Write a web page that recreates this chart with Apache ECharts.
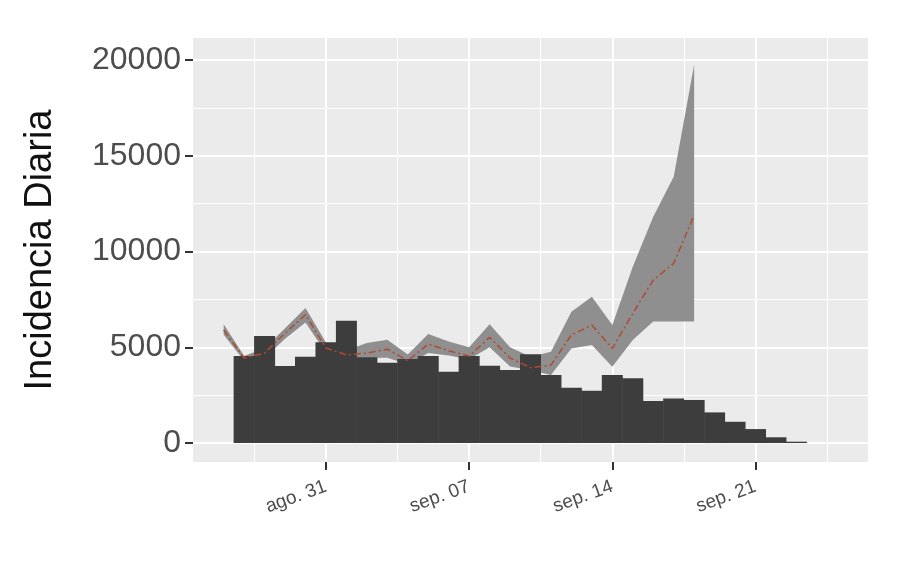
<!DOCTYPE html>
<html>
<head>
<meta charset="utf-8">
<script src="https://cdn.jsdelivr.net/npm/echarts@6/dist/echarts.min.js"></script>
<style>html,body{margin:0;padding:0;background:#fff}#chart{width:910px;height:583px}</style>
</head>
<body>
<div id="chart"></div>
<script>
// days are counted from ago. 31 (0 = ago. 31)
var barDays = [-4, -3, -2, -1, 0, 1, 2, 3, 4, 5, 6, 7, 8, 9, 10, 11, 12, 13, 14, 15, 16, 17, 18, 19, 20, 21, 22, 23];
var barValues = [4540, 5590, 4020, 4500, 5260, 6390, 4480, 4190, 4390, 4540, 3720, 4540, 4040, 3810, 4630,
    3550, 2890, 2730, 3550, 3380, 2190, 2330, 2250, 1600, 1110, 730, 300, 70];

var fitDays = [-5, -4, -3, -2, -1, 0, 1, 2, 3, 4, 5, 6, 7, 8, 9, 10, 11, 12, 13, 14, 15, 16, 17, 18];
var fitMean = [5900, 4440, 4700, 5740, 6700, 4960, 4600, 4700, 4900, 4300, 5170, 4820, 4540, 5520, 4440, 3930,
    4070, 5640, 6160, 4940, 6770, 8510, 9380, 11900];
var fitLower = [5650, 4300, 4450, 5450, 6300, 4700, 4400, 4440, 4450, 4100, 4700, 4570, 4370, 5000, 4000, 3800,
    3550, 4940, 5120, 3990, 5380, 6340, 6340, 6340];
var fitUpper = [6200, 4550, 4950, 6000, 7050, 5250, 4850, 5220, 5400, 4620, 5700, 5300, 5000, 6200, 5000, 4500,
    4770, 6860, 7640, 6160, 9210, 11820, 13910, 19740];

var xTicks = [0, 7, 14, 21];
var xTickLabels = ['ago. 31', 'sep. 07', 'sep. 14', 'sep. 21'];
var xMinor = [-3.5, 3.5, 10.5, 17.5, 24.5];
var yTicks = [0, 5000, 10000, 15000, 20000];
var yMinor = [2500, 7500, 12500, 17500];

var chart = echarts.init(document.getElementById('chart'));

function pairs(xs, ys) {
    return xs.map(function (x, i) { return [x, ys[i]]; });
}

var xRange = { min: -6.5, max: 26.5 };
var yRange = { min: -990, max: 21150 };

// ribbon polygon: upper edge left->right, lower edge right->left
function renderBand(params, api) {
    var pts = [];
    for (var i = 0; i < fitDays.length; i++) pts.push(api.coord([fitDays[i], fitUpper[i]]));
    for (var j = fitDays.length - 1; j >= 0; j--) pts.push(api.coord([fitDays[j], fitLower[j]]));
    return { type: 'polygon', shape: { points: pts }, style: { fill: '#8f8f8f' } };
}

chart.setOption({
    animation: false,
    grid: {
        left: 193, right: 42, top: 38, bottom: 121,
        show: true, backgroundColor: '#EBEBEB', borderWidth: 0
    },
    xAxis: [{
        type: 'value', min: xRange.min, max: xRange.max,
        axisLine: { show: false, onZero: false },
        axisTick: { show: true, customValues: xTicks, length: 8, lineStyle: { color: '#333', width: 2 } },
        axisLabel: {
            customValues: xTicks, rotate: 20, color: '#4d4d4d', fontSize: 19, margin: 24,
            fontFamily: 'Liberation Sans, Arial',
            formatter: function (v) { return xTickLabels[xTicks.indexOf(v)]; }
        },
        splitLine: { show: true, lineStyle: { color: '#fff', width: 2 } }
    }, {
        type: 'value', min: xRange.min, max: xRange.max, position: 'bottom',
        axisLine: { show: false, onZero: false },
        axisTick: { show: false, customValues: xMinor },
        axisLabel: { show: false, customValues: xMinor },
        splitLine: { show: true, lineStyle: { color: '#fff', width: 1 } }
    }],
    yAxis: [{
        type: 'value', min: yRange.min, max: yRange.max,
        name: 'Incidencia Diaria', nameLocation: 'middle', nameGap: 133,
        nameTextStyle: { fontSize: 38, color: '#111', fontFamily: 'Liberation Sans, Arial' },
        axisLine: { show: false, onZero: false },
        axisTick: { show: true, customValues: yTicks, length: 8, lineStyle: { color: '#333', width: 2 } },
        axisLabel: {
            customValues: yTicks, color: '#4d4d4d', fontSize: 32, margin: 12, fontFamily: 'Liberation Sans, Arial',
            formatter: function (v) { return String(v); }
        },
        splitLine: { show: true, lineStyle: { color: '#fff', width: 2 } }
    }, {
        type: 'value', min: yRange.min, max: yRange.max, position: 'left',
        axisLine: { show: false, onZero: false },
        axisTick: { show: false, customValues: yMinor },
        axisLabel: { show: false, customValues: yMinor },
        splitLine: { show: true, lineStyle: { color: '#fff', width: 1 } }
    }],
    series: [{
        type: 'custom', renderItem: renderBand, data: [[0, 0]], z: 2, clip: true
    }, {
        type: 'bar', data: pairs(barDays, barValues), barWidth: 21,
        itemStyle: { color: '#3d3d3d' }, z: 3
    }, {
        type: 'line', data: pairs(fitDays, fitMean), symbol: 'none',
        lineStyle: { color: '#b04a33', width: 1.5, type: [7, 3, 2, 3] }, z: 4
    }]
});
</script>
</body>
</html>
